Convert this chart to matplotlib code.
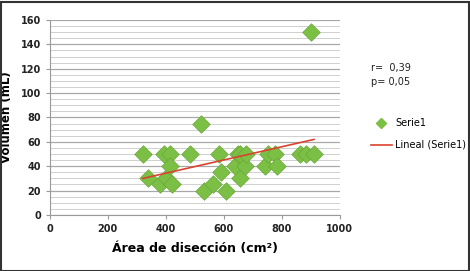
import numpy as np
import matplotlib
matplotlib.use("Agg")
import matplotlib.pyplot as plt
from matplotlib.ticker import MultipleLocator
from matplotlib.lines import Line2D
from matplotlib.patches import Rectangle

# data
area = [320, 340, 380, 395, 400, 415, 415, 423, 483, 520, 530, 563, 584, 592,
        607, 638, 650, 655, 655, 672, 678, 741, 753, 776, 782, 862, 885, 900, 911]
volumen = [50, 30, 25, 50, 30, 50, 40, 25, 50, 75, 20, 25, 50, 35,
           20, 40, 50, 50, 30, 40, 50, 40, 50, 50, 40, 50, 50, 150, 50]
stats_text = "r=  0,39\np= 0,05"

fig = plt.figure(figsize=(4.7, 2.71), dpi=100)
ax = fig.add_axes([0.106, 0.207, 0.617, 0.719])

# linear trend
m, b = np.polyfit(area, volumen, 1)
xl = np.array([min(area), max(area)])
ax.plot(xl, m * xl + b, color="#d9432f", lw=1.2, zorder=3)

ax.scatter(area, volumen, marker="D", s=80, color="#7cbf45",
           edgecolor="#6aa83a", linewidth=0.5, zorder=2)

ax.set_xlim(0, 1000)
ax.set_ylim(0, 160)
ax.xaxis.set_major_locator(MultipleLocator(200))
ax.yaxis.set_major_locator(MultipleLocator(20))
ax.yaxis.set_minor_locator(MultipleLocator(5))
ax.grid(axis="y", which="major", color="#a8a8a8", lw=0.9)
ax.grid(axis="y", which="minor", color="#d0d0d0", lw=0.7)
ax.set_axisbelow(True)
for s in ["top", "right"]:
    ax.spines[s].set_visible(False)
for s in ["left", "bottom"]:
    ax.spines[s].set_color("#9a9a9a")
ax.tick_params(which="major", length=3, color="#9a9a9a", labelsize=7,
               labelcolor="#222222")
ax.tick_params(which="minor", length=0)
for lab in ax.get_xticklabels() + ax.get_yticklabels():
    lab.set_fontweight("bold")

ax.set_xlabel("Área de disección (cm²)", fontsize=9, fontweight="bold", labelpad=6)
ax.set_ylabel("Volumen (mL)", fontsize=8.5, fontweight="bold")
ax.yaxis.set_label_coords(-0.128, 0.5)

fig.text(0.79, 0.725, stats_text, fontsize=7, va="center", ha="left",
         linespacing=1.5, color="#222222")

handles = [Line2D([], [], marker="D", ls="", color="#7cbf45", markersize=5),
           Line2D([], [], color="#d9432f", lw=1.2)]
fig.legend(handles, ["Serie1", "Lineal (Serie1)"], loc="center left",
           bbox_to_anchor=(0.77, 0.505), frameon=False, fontsize=7,
           handlelength=2.2, labelspacing=1.2, handletextpad=0.3)

fig.add_artist(Rectangle((0.002, 0.0), 0.996, 0.993, transform=fig.transFigure,
                         fill=False, edgecolor="#333333", lw=1.5))

fig.savefig("out.png", dpi=100)
